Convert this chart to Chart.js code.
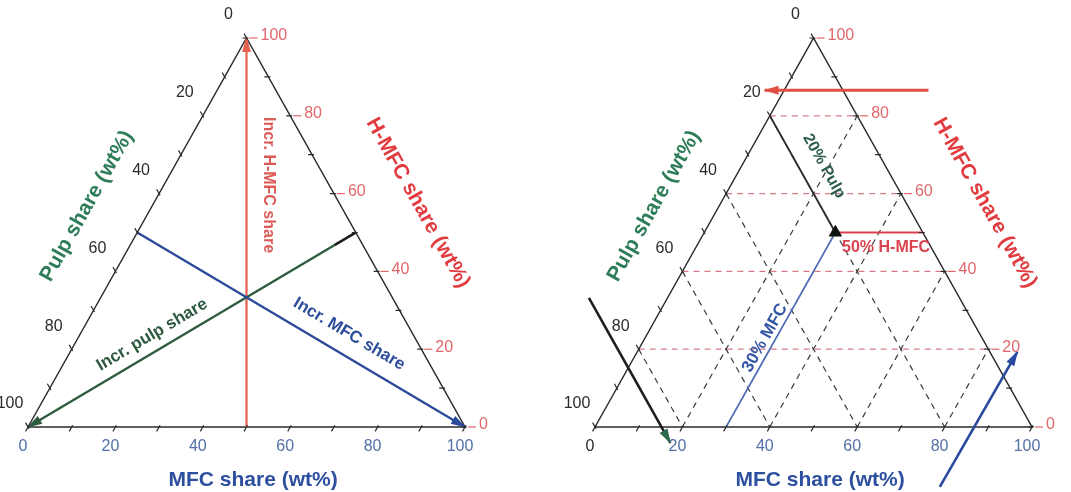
<!DOCTYPE html>
<html>
<head>
<meta charset="utf-8">
<script src="https://cdn.jsdelivr.net/npm/chart.js@4/dist/chart.umd.min.js"></script>
<style>
  html, body { margin: 0; background: #fff; }
  #wrap { width: 1071px; height: 492px; }
</style>
</head>
<body>
<div id="wrap"><canvas id="ternary" width="1071" height="492"></canvas></div>
<script>
// all points are (MFC share, H-MFC share) in wt%; pulp = 100 - MFC - H-MFC
const tickValues = [0, 20, 40, 60, 80, 100];
const minorValues = [0, 10, 20, 30, 40, 50, 60, 70, 80, 90, 100];
const gridLevels = [20, 40, 60, 80];
const triangle = [[0, 0], [100, 0], [0, 100], [0, 0]];

// left panel: directions of increase
const hmfcPath = [[50, 0], [0, 100]];
const pulpPath = [[50, 50], [0, 0]];
const pulpPathTip = [[50, 50], [46.8, 46.8]];
const mfcPath = [[0, 50], [100, 0]];

// right panel: reading a sample point
const sample = [30, 50];
const pulpCut = [[0, 80], sample];
const mfcCut = [[30, 0], sample];
const hmfcCut = [sample, [50, 50]];
const readPulp = [[-18, 33.2], [19.3, -4.1]];
const readHmfc = [[33, 86.6], [-4.5, 86.6]];
const readMfc = [[86.6, -15.4], [87, 19.3]];

const SHIFT = 129.75; // right panel offset along x
const FONT = '"Liberation Sans", Arial, sans-serif';

function cart(m, h, panel) {
  return { x: m + h / 2 + panel * SHIFT, y: h };
}

function line(pairs, panel, color, width, extra) {
  return Object.assign({
    data: pairs.map(([m, h]) => cart(m, h, panel)),
    showLine: true,
    borderColor: color,
    backgroundColor: color,
    borderWidth: width,
    pointRadius: 0,
    fill: false,
    clip: false
  }, extra || {});
}

const datasets = [];
// dashed grid in the right panel (drawn first = underneath)
gridLevels.forEach(v => {
  datasets.push(line([[0, 100 - v], [100 - v, 0]], 1, '#3c3c3c', 1.2, { borderDash: [6, 5] }));
  datasets.push(line([[v, 0], [v, 100 - v]], 1, '#3c3c3c', 1.2, { borderDash: [6, 5] }));
  datasets.push(line([[0, v], [100 - v, v]], 1, '#d97c88', 1.2, { borderDash: [6, 5] }));
});
datasets.push(line(triangle, 0, '#2b2b2b', 1.5));
datasets.push(line(triangle, 1, '#2b2b2b', 1.5));

datasets.push(line(hmfcPath, 0, '#e6604f', 2.2, { arrowColor: '#e6604f' }));
datasets.push(line(pulpPath, 0, '#2f5b3f', 2.4, { arrowColor: '#2f5b3f' }));
datasets.push(line(pulpPathTip, 0, '#1e1e1e', 2.4));
datasets.push(line(mfcPath, 0, '#2b4a9a', 2.4, { arrowColor: '#2b4a9a' }));

datasets.push(line(mfcCut, 1, '#4a68b5', 1.6));
datasets.push(line(pulpCut, 1, '#2b2b2b', 1.8));
datasets.push(line(hmfcCut, 1, '#d8404f', 1.8));
datasets.push(line(readHmfc, 1, '#e14f45', 3, { arrowColor: '#e14f45' }));
datasets.push(line(readPulp, 1, '#1e1e1e', 2.6, { arrowColor: '#2d6a4a' }));
datasets.push(line(readMfc, 1, '#2a4aa0', 2.6, { arrowColor: '#2a4aa0' }));
datasets.push({
  data: [cart(sample[0], sample[1], 1)],
  pointStyle: 'triangle',
  pointRadius: 7,
  backgroundColor: '#111',
  borderColor: '#111',
  clip: false
});
datasets.reverse();

const decor = {
  id: 'decor',
  afterDatasetsDraw(chart) {
    const ctx = chart.ctx;
    const sx = chart.scales.x, sy = chart.scales.y;
    const P = (m, h, k) => ({ x: sx.getPixelForValue(m + h / 2 + k * SHIFT), y: sy.getPixelForValue(h) });
    const L = (x, y, k) => ({ x: sx.getPixelForValue(x + k * SHIFT), y: sy.getPixelForValue(y) });

    // arrowheads
    chart.data.datasets.forEach((ds, i) => {
      if (!ds.arrowColor) return;
      const pts = chart.getDatasetMeta(i).data;
      const tip = pts[pts.length - 1], prev = pts[pts.length - 2];
      const a = Math.atan2(tip.y - prev.y, tip.x - prev.x);
      ctx.save();
      ctx.translate(tip.x, tip.y);
      ctx.rotate(a);
      ctx.fillStyle = ds.arrowColor;
      ctx.beginPath();
      ctx.moveTo(1, 0);
      ctx.lineTo(-14, -4.5);
      ctx.lineTo(-14, 4.5);
      ctx.closePath();
      ctx.fill();
      ctx.restore();
    });

    function text(str, x, y, opts) {
      ctx.save();
      ctx.translate(x, y);
      ctx.rotate(opts.angle || 0);
      ctx.font = opts.font;
      ctx.fillStyle = opts.color;
      ctx.textAlign = opts.align || 'center';
      ctx.textBaseline = 'middle';
      ctx.fillText(str, 0, 0);
      ctx.restore();
    }
    function angle(a, b) { return Math.atan2(b.y - a.y, b.x - a.x); }
    function unit(a, b) {
      const d = Math.hypot(b.x - a.x, b.y - a.y);
      return { x: (b.x - a.x) / d, y: (b.y - a.y) / d };
    }

    const tickFont = '16px ' + FONT;
    [0, 1].forEach(k => {
      const bl = P(0, 0, k), br = P(100, 0, k), ap = P(0, 100, k);
      const upLeft = unit(br, ap), downLeft = unit(ap, bl);

      // ticks
      ctx.save();
      ctx.strokeStyle = '#2b2b2b';
      ctx.lineWidth = 1.2;
      minorValues.forEach(v => {
        const a = P(0, 100 - v, k);
        const b = P(100 - v, v, k);
        const c = P(v, 0, k);
        ctx.beginPath();
        ctx.moveTo(a.x - upLeft.x * 2, a.y - upLeft.y * 2);
        ctx.lineTo(a.x + upLeft.x * 5, a.y + upLeft.y * 5);
        ctx.moveTo(b.x - 4, b.y);
        ctx.lineTo(b.x + 2, b.y);
        ctx.moveTo(c.x - downLeft.x * 2, c.y - downLeft.y * 2);
        ctx.lineTo(c.x + downLeft.x * 5, c.y + downLeft.y * 5);
        ctx.stroke();
      });
      ctx.strokeStyle = '#e0676b';
      tickValues.forEach(v => {
        const b = P(100 - v, v, k);
        ctx.beginPath();
        ctx.moveTo(b.x + 3, b.y);
        ctx.lineTo(b.x + 11, b.y);
        ctx.stroke();
      });
      ctx.restore();

      // tick labels
      tickValues.forEach(v => {
        const a = P(0, 100 - v, k);
        text(String(v), a.x - 18, a.y - 23, { font: tickFont, color: '#2b2b2b' });
        const b = P(100 - v, v, k);
        text(String(v), b.x + 14, b.y - 2, { font: tickFont, color: '#e0676b', align: 'left' });
        const c = P(v, 0, k);
        const col = (k === 1 && v === 0) ? '#2b2b2b' : '#5270a8';
        text(String(v), c.x - 5, c.y + 20, { font: tickFont, color: col });
      });

      // axis titles
      const titleFont = 'bold 21px ' + FONT;
      let p = L(13.5, 56.8, k);
      text('Pulp share (wt%)', p.x, p.y, { font: titleFont, color: '#2f7d58', angle: angle(bl, ap) });
      p = L(89.2, 57.6, k);
      text('H-MFC share (wt%)', p.x, p.y, { font: titleFont, color: '#e23b3f', angle: angle(ap, br) });
      p = L(51.5, -13.6, k);
      text('MFC share (wt%)', p.x, p.y, { font: titleFont, color: '#2d4f9f' });
    });

    // left panel annotations
    let p = L(54.9, 62.2, 0);
    text('Incr. H-MFC share', p.x, p.y, { font: 'bold 16px ' + FONT, color: '#dc5a55', angle: Math.PI / 2 });
    p = L(28.4, 23.7, 0);
    text('Incr. pulp share', p.x, p.y, { font: 'bold 17px ' + FONT, color: '#2f5a40', angle: angle(P(0, 0, 0), P(50, 50, 0)) });
    p = L(73.5, 23.9, 0);
    text('Incr. MFC share', p.x, p.y, { font: 'bold 17px ' + FONT, color: '#2d4e9a', angle: angle(P(0, 50, 0), P(100, 0, 0)) });

    // right panel annotations
    p = L(52.4, 67.1, 1);
    text('20% Pulp', p.x, p.y, { font: 'bold 16px ' + FONT, color: '#2e5e4e', angle: angle(P(0, 80, 1), P(80, 0, 1)) });
    p = L(38.9, 22.9, 1);
    text('30% MFC', p.x, p.y, { font: 'bold 17px ' + FONT, color: '#3355a5', angle: angle(P(30, 0, 1), P(30, 70, 1)) });
    p = L(66.6, 46.0, 1);
    text('50% H-MFC', p.x, p.y, { font: 'bold 16px ' + FONT, color: '#d9434f' });
  }
};

new Chart(document.getElementById('ternary'), {
  type: 'scatter',
  data: { datasets: datasets },
  options: {
    responsive: false,
    animation: false,
    events: [],
    layout: { padding: 0, autoPadding: false },
    plugins: { legend: { display: false }, tooltip: { enabled: false } },
    scales: {
      x: { type: 'linear', display: false, min: -6.407, max: 238.67 },
      y: { type: 'linear', display: false, min: -16.71, max: 109.77 }
    }
  },
  plugins: [decor]
});
</script>
</body>
</html>
